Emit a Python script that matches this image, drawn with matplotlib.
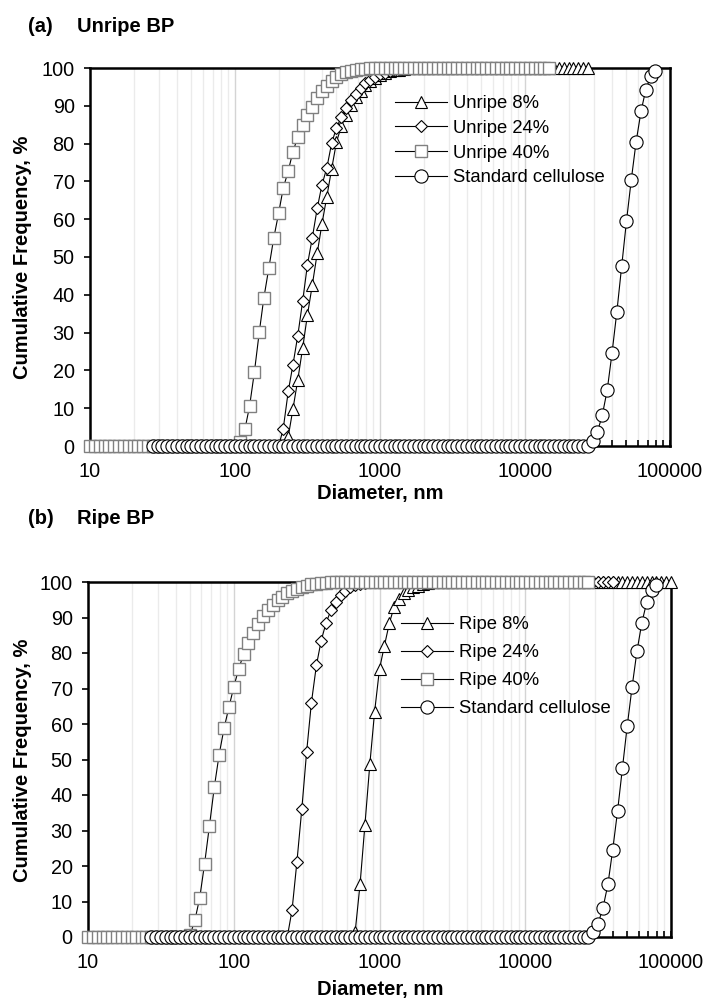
import matplotlib.pyplot as plt
import matplotlib.ticker as mticker

plt.rcParams['font.family'] = ['Liberation Sans', 'DejaVu Sans']

# size bins (nm), shared by every series
diameter_nm = [
    10, 10.8, 11.7, 12.6, 13.6, 14.7, 15.8, 17.1, 18.5, 20.0, 21.5, 23.3, 25.1, 27.1, 29.3,
    31.6, 34.1, 36.9, 39.8, 43.0, 46.4, 50.1, 54.1, 58.4, 63.1, 68.1, 73.6, 79.4, 85.8, 92.6,
    100, 108, 117, 126, 136, 147, 158, 171, 185, 200, 215, 233, 251, 271, 293,
    316, 341, 369, 398, 430, 464, 501, 541, 584, 631, 681, 736, 794, 858, 926,
    1000, 1080, 1170, 1260, 1360, 1470, 1580, 1710, 1850, 2000, 2150, 2330, 2510, 2710, 2930,
    3160, 3410, 3690, 3980, 4300, 4640, 5010, 5410, 5840, 6310, 6810, 7360, 7940, 8580, 9260,
    10000, 10800, 11700, 12600, 13600, 14700, 15800, 17100, 18500, 20000, 21500, 23300, 25100, 27100, 29300,
    31600, 34100, 36900, 39800, 43000, 46400, 50100, 54100, 58400, 63100, 68100, 73600, 79400, 85800, 92600,
    100000,
]

# (a) unripe -- cumulative frequency, %
unripe8_start = 13
unripe8_cum = [0.0] * 28 + [
    2.5, 9.8, 17.5, 26.0, 34.7, 42.5, 51.0, 58.8, 66.0, 73.3, 80.4, 84.6, 87.6,
    90.1, 92.3, 94.0, 95.4, 96.5, 97.4, 98.1, 98.7, 99.1, 99.4, 99.6, 99.8, 99.9] + [100.0] * 37

unripe24_start = 13
unripe24_cum = [0.0] * 27 + [
    4.5, 14.5, 21.5, 29.2, 38.4, 48.0, 55.0, 62.9, 69.1, 73.6, 80.1, 84.2, 87.0,
    89.4, 91.5, 93.2, 94.7, 95.9, 96.9, 97.7, 98.3, 98.8, 99.2, 99.5, 99.7, 99.9] + [100.0] * 27

unripe40_start = 0
unripe40_cum = [0.0] * 31 + [
    1.0, 4.4, 10.5, 19.5, 30.1, 39.1, 47.0, 55.0, 61.6, 68.2, 72.8, 77.9, 81.7, 84.8,
    87.5, 89.8, 92.0, 93.9, 95.3, 96.6, 97.6, 98.4, 98.9, 99.3, 99.5, 99.7, 99.8, 99.9] + [100.0] * 37

# standard cellulose (same curve in both panels)
cellulose_start = 13
cellulose_cum = [0.0] * 91 + [
    1.4, 3.8, 8.1, 14.8, 24.5, 35.5, 47.5, 59.5, 70.5, 80.5, 88.5, 94.3, 97.8, 99.2]

# (b) ripe
ripe8_start = 13
ripe8_cum = [0.0] * 42 + [
    1.5, 15.0, 31.5, 48.6, 63.5, 75.5, 82.0, 88.5, 93.0, 95.3, 96.8, 97.8, 98.5,
    99.0, 99.4, 99.7, 99.9] + [100.0] * 49

ripe24_start = 13
ripe24_cum = [0.0] * 29 + [
    7.5, 21.0, 36.0, 52.0, 66.0, 76.5, 83.5, 88.5, 92.0, 94.5, 96.3, 97.6, 98.5,
    99.1, 99.5, 99.8] + [100.0] * 51

ripe40_start = 0
ripe40_cum = [0.0] * 21 + [
    0.5, 4.7, 11.0, 20.7, 31.3, 42.3, 51.4, 58.8, 64.7, 70.4, 75.5, 79.7, 82.8, 85.6,
    88.3, 90.3, 92.0, 93.5, 94.8, 95.9, 96.8, 97.5, 98.1, 98.6, 99.0, 99.3, 99.5,
    99.7, 99.8, 99.9] + [100.0] * 53

W, H = 709, 1002
fig = plt.figure(figsize=(W / 100, H / 100), dpi=100)

tri = dict(marker='^', ms=9, mfc='white', mec='black', mew=0.8)
dia = dict(marker='D', ms=6.5, mfc='white', mec='black', mew=0.8)
sq = dict(marker='s', ms=8.5, mfc='white', mec='#808080', mew=1.0)
circ = dict(marker='o', ms=9.5, mfc='white', mec='black', mew=0.8)


def add_axes_px(left, top, right, bottom):
    return fig.add_axes([left / W, 1 - bottom / H, (right - left) / W, (bottom - top) / H])


def plot_series(ax, start, cum, style, label):
    x = diameter_nm[start:start + len(cum)]
    ax.plot(x, cum, color='black', lw=0.8, label=label, clip_on=False, zorder=3, **style)


def style_axes(ax):
    ax.set_xscale('log')
    ax.set_xlim(10, 100000)
    ax.set_ylim(0, 100)
    ax.set_yticks(range(0, 101, 10))
    ax.xaxis.set_major_locator(mticker.LogLocator(base=10))
    ax.xaxis.set_minor_locator(mticker.LogLocator(base=10, subs=range(2, 10)))
    ax.xaxis.set_major_formatter(mticker.StrMethodFormatter('{x:.0f}'))
    ax.xaxis.set_minor_formatter(mticker.NullFormatter())
    ax.grid(True, which='major', axis='x', color='#d4d4d4', lw=1.0)
    ax.grid(True, which='minor', axis='x', color='#ebebeb', lw=1.0)
    ax.set_axisbelow(True)
    for s in ax.spines.values():
        s.set_linewidth(1.8)
    ax.tick_params(axis='x', which='both', direction='in', length=4, width=1.2,
                   labelsize=14.3, pad=11.5)
    ax.tick_params(axis='y', direction='out', length=4, width=1.2, labelsize=14.3, pad=7)


def legend_px(ax, x, y, spacing):
    ax.legend(loc='upper left', bbox_to_anchor=(x / W, 1 - y / H), bbox_transform=fig.transFigure,
              frameon=False, fontsize=13.3, handlelength=2.8, handletextpad=0.35,
              labelspacing=spacing, borderpad=0, borderaxespad=0)


# ---- (a) Unripe BP
ax1 = add_axes_px(90, 68, 670, 446)
style_axes(ax1)
plot_series(ax1, unripe8_start, unripe8_cum, tri, 'Unripe 8%')
plot_series(ax1, unripe24_start, unripe24_cum, dia, 'Unripe 24%')
plot_series(ax1, unripe40_start, unripe40_cum, sq, 'Unripe 40%')
plot_series(ax1, cellulose_start, cellulose_cum, circ, 'Standard cellulose')
legend_px(ax1, 395, 95, 0.42)

# ---- (b) Ripe BP
ax2 = add_axes_px(88, 582, 671, 937)
style_axes(ax2)
plot_series(ax2, ripe8_start, ripe8_cum, tri, 'Ripe 8%')
plot_series(ax2, ripe24_start, ripe24_cum, dia, 'Ripe 24%')
plot_series(ax2, ripe40_start, ripe40_cum, sq, 'Ripe 40%')
plot_series(ax2, cellulose_start, cellulose_cum, circ, 'Standard cellulose')
legend_px(ax2, 401, 616, 0.6)

bold = dict(fontweight='bold', fontsize=14.5, va='center')
fig.text(28 / W, 1 - 27 / H, '(a)', ha='left', **bold)
fig.text(77 / W, 1 - 27 / H, 'Unripe BP', ha='left', **bold)
fig.text(28 / W, 1 - 519 / H, '(b)', ha='left', **bold)
fig.text(77 / W, 1 - 519 / H, 'Ripe BP', ha='left', **bold)

fig.text(380 / W, 1 - 494 / H, 'Diameter, nm', ha='center', **bold)
fig.text(380 / W, 1 - 990 / H, 'Diameter, nm', ha='center', **bold)
fig.text(23 / W, 1 - 257 / H, 'Cumulative Frequency, %', ha='center', rotation=90, **bold)
fig.text(23 / W, 1 - 760 / H, 'Cumulative Frequency, %', ha='center', rotation=90, **bold)

fig.savefig('out.png', dpi=100)
